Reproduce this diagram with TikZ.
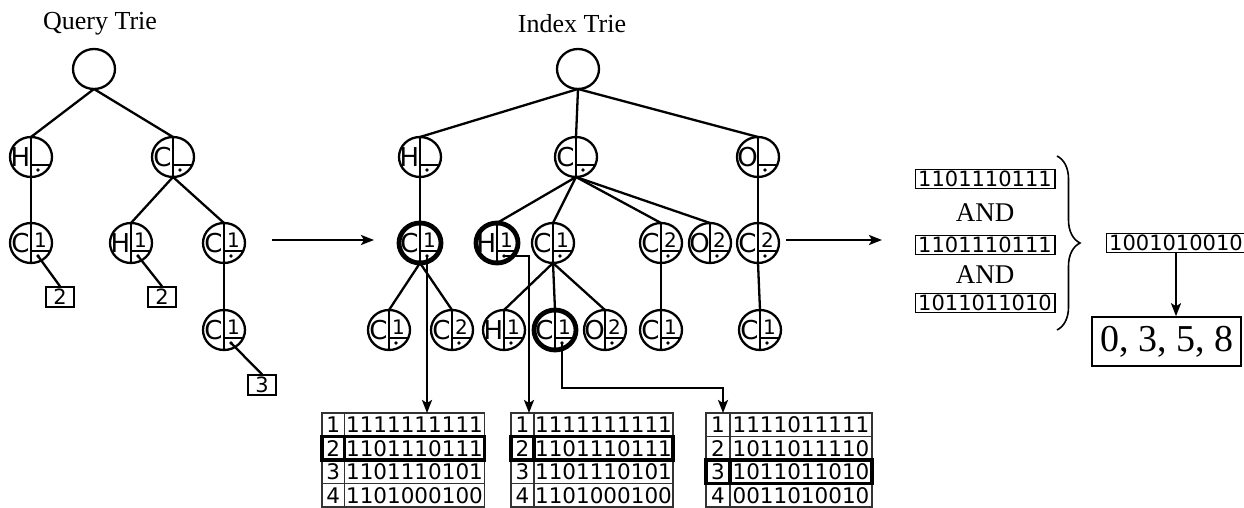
\documentclass[tikz,border=0pt]{standalone}
\usepackage{fontspec}
\setmainfont{Liberation Serif}
\newfontfamily\dvsans{DejaVu Sans}
\usetikzlibrary{shapes.geometric,arrows.meta,calc,decorations.pathreplacing}
\tikzset{
  tn/.style={ellipse, draw, line width=2.3pt, minimum width=42pt, minimum height=40pt, inner sep=0pt, outer sep=0pt},
  hl/.style={line width=4.8pt},
  edge/.style={line width=2.3pt},
  arr/.style={line width=2.3pt, -{Stealth[length=13pt,width=10pt,inset=3pt]}},
  lett/.style={font=\dvsans\fontsize{26pt}{28pt}\selectfont, inner sep=0pt},
  numl/.style={font=\dvsans\fontsize{20pt}{22pt}\selectfont, inner sep=0pt},
  cell/.style={draw=black!80, line width=1.4pt, minimum height=23.5pt, inner sep=0pt, outer sep=0pt, anchor=north west, font=\dvsans\fontsize{21.5pt}{24pt}\selectfont},
  hlrow/.style={line width=3.6pt},
  qbox/.style={draw, line width=1.4pt, minimum width=28pt, minimum height=20pt, inner sep=0pt, font=\dvsans\fontsize{21pt}{22pt}\selectfont},
  bbox/.style={draw, line width=1.4pt, inner xsep=3pt, inner ysep=1.5pt, font=\dvsans\fontsize{21pt}{22pt}\selectfont},
  title/.style={font=\fontsize{26pt}{28pt}\selectfont, inner sep=0pt},
  andl/.style={font=\fontsize{27pt}{28pt}\selectfont, inner sep=0pt},
}
\newcommand\trie[6][]{%
  \node[tn,#1] (#2) at (#3,#4) {};
  \coordinate (#2-d) at ($(#2.center)+(7,13)$);
  \draw[edge] (#2.north) -- (#2.south);
  \draw[edge] ($(#2.center)+(0,8)$) -- ($(#2.center)+(19.2,8)$);
  \node[lett] (#2-l) at ($(#2.center)+(-10.5,0.5)$) {#5};
  \node[numl] (#2-n) at ($(#2.center)+(9.5,-2.5)$) {#6};
  \fill (#2-d) circle (1.8pt);
}
\newcommand\trow[7]{% name x y num bits numw bitsw
  \node[cell, minimum width=#6] (#1n) at (#2,#3) {#4};
  \node[cell, minimum width=#7] (#1b) at (#1n.north east) {#5};
}
\begin{document}
\begin{tikzpicture}[x=1pt,y=-1pt]
\useasboundingbox (0,0) rectangle (1244,508);

% titles
\node[title] (qt) at (100,24) {Query Trie};
\node[title] (it) at (572,24) {Index Trie};

% ---------- query trie ----------
\node[tn] (qR) at (94,69) {};
\trie{qH}{31}{157}{H}{}
\trie{qC}{173}{157}{C}{}
\trie{qHC}{31}{243}{C}{1}
\trie{qCH}{131}{243}{H}{1}
\trie{qCC}{224}{243}{C}{1}
\trie{qCCC}{224}{330}{C}{1}
\node[qbox] (qb1) at (60,297) {2};
\node[qbox] (qb2) at (162,297) {2};
\node[qbox] (qb3) at (262,385) {3};

\draw[edge] (qR.south) -- (qH.north);
\draw[edge] (qR.south) -- (qC.north);
\draw[edge] (qH.south) -- (qHC.north);
\draw[edge] (qC.south) -- (qCH.north);
\draw[edge] (qC.south) -- (qCC.north);
\draw[edge] (qCC.south) -- (qCCC.north);
\draw[edge] (qHC-d) -- (qb1.north);
\draw[edge] (qCH-d) -- (qb2.north);
\draw[edge] (qCCC-d) -- (qb3.north);

% arrow query -> index
\coordinate (qa1) at (272,240);
\coordinate (qa2) at (374,240);
\draw[arr] (qa1) -- (qa2);

% ---------- index trie ----------
\node[tn] (iR) at (578,69) {};
\trie{iH}{420}{157}{H}{}
\trie{iC}{576}{157}{C}{}
\trie{iO}{758}{157}{O}{}
\trie[hl]{iHC}{420}{243}{C}{1}
\trie[hl]{iCH}{497}{243}{H}{1}
\trie{iCC}{553}{243}{C}{1}
\trie{iCC2}{661}{243}{C}{2}
\trie{iCO}{710}{243}{O}{2}
\trie{iOC}{758}{243}{C}{2}
\trie{iHCC}{389}{330}{C}{1}
\trie{iHCC2}{452}{330}{C}{2}
\trie{iCCH}{504}{330}{H}{1}
\trie[hl]{iCCC}{555}{330}{C}{1}
\trie{iCCO}{605}{330}{O}{2}
\trie{iCC2C}{661}{330}{C}{1}
\trie{iOCC}{760}{330}{C}{1}

\draw[edge] (iR.south) -- (iH.north);
\draw[edge] (iR.south) -- (iC.north);
\draw[edge] (iR.south) -- (iO.north);
\draw[edge] (iH.south) -- (iHC.north);
\draw[edge] (iC.south) -- (iCH.north);
\draw[edge] (iC.south) -- (iCC.north);
\draw[edge] (iC.south) -- (iCC2.north);
\draw[edge] (iC.south) -- (iCO.north);
\draw[edge] (iO.south) -- (iOC.north);
\draw[edge] (iHC.south) -- (iHCC.north);
\draw[edge] (iHC.south) -- (iHCC2.north);
\draw[edge] (iCC.south) -- (iCCH.north);
\draw[edge] (iCC.south) -- (iCCC.north);
\draw[edge] (iCC.south) -- (iCCO.north);
\draw[edge] (iCC2.south) -- (iCC2C.north);
\draw[edge] (iOC.south) -- (iOCC.north);

% ---------- tables ----------
\trow{ta1}{322}{413}{1}{1111111111}{22.5pt}{140pt}
\trow{ta3}{322}{460}{3}{1101110101}{22.5pt}{140pt}
\trow{ta4}{322}{483.5}{4}{1101000100}{22.5pt}{140pt}
\trow{ta2}{322}{436.5}{2}{1101110111}{22.5pt}{140pt}
\draw[hlrow] (ta2n.north west) rectangle (ta2b.south east);
\draw[hlrow] (ta2n.north east) -- (ta2n.south east);

\trow{tb1}{511}{413}{1}{1111111111}{23pt}{139pt}
\trow{tb3}{511}{460}{3}{1101110101}{23pt}{139pt}
\trow{tb4}{511}{483.5}{4}{1101000100}{23pt}{139pt}
\trow{tb2}{511}{436.5}{2}{1101110111}{23pt}{139pt}
\draw[hlrow] (tb2n.north west) rectangle (tb2b.south east);
\draw[hlrow] (tb2n.north east) -- (tb2n.south east);

\trow{tc1}{706}{413}{1}{1111011111}{24pt}{142pt}
\trow{tc2}{706}{436.5}{2}{1011011110}{24pt}{142pt}
\trow{tc4}{706}{483.5}{4}{0011010010}{24pt}{142pt}
\trow{tc3}{706}{460}{3}{1011011010}{24pt}{142pt}
\draw[hlrow] (tc3n.north west) rectangle (tc3b.south east);
\draw[hlrow] (tc3n.north east) -- (tc3n.south east);

% arrows to tables
\draw[arr] (iHC-d) -- (iHC-d |- ta1b.north);
\coordinate (a2) at (529,413);
\draw[arr] (iCH-d) -| (a2);
\coordinate (k3) at (723,388);
\coordinate (a3) at (723,413);
\draw[arr] (iCCC-d) |- (k3) -- (a3);

% arrow index -> bit vectors
\coordinate (ia1) at (786,240);
\coordinate (ia2) at (882,240);
\draw[arr] (ia1) -- (ia2);

% ---------- right side ----------
\node[bbox] (b1) at (985,179) {1101110111};
\node[andl] (and1) at (985,213) {AND};
\node[bbox] (b2) at (985,245) {1101110111};
\node[andl] (and2) at (985,275) {AND};
\node[bbox] (b3) at (985,303) {1011011010};
\coordinate (br1) at (1057,156);
\coordinate (br2) at (1057,330);
\draw[line width=1.6pt, decorate, decoration={brace, amplitude=23pt}] (br1) -- (br2);

\node[bbox] (res) at (1176,243) {1001010010};
\node[draw, line width=1.6pt, minimum width=149pt, minimum height=49pt, inner sep=0pt, font=\fontsize{38pt}{40pt}\selectfont] (fin) at (1166.5,341.5) {0, 3, 5, 8};
\draw[arr] (res.south) -- (res.south |- fin.north);
\end{tikzpicture}
\end{document}
